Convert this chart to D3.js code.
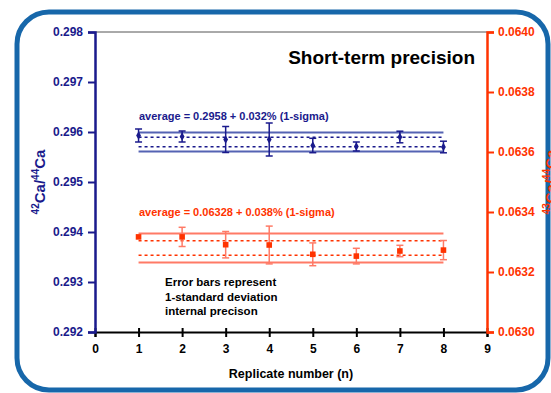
<!DOCTYPE html>
<html>
<head>
<meta charset="utf-8">
<script src="https://cdn.jsdelivr.net/npm/d3@7"></script>
<style>
  body { margin: 0; background: #fff; }
  svg { display: block; font-family: "Liberation Sans", Arial, sans-serif; }
</style>
</head>
<body>
<svg id="chart" width="551" height="393"></svg>
<script>
// replicate numbers and measured ratios
const replicates = [1, 2, 3, 4, 5, 6, 7, 8];
const ca42 = [0.29593, 0.29591, 0.29585, 0.29585, 0.29573, 0.29571, 0.29590, 0.29570];
const ca42Err = [0.00013, 0.00011, 0.00026, 0.00033, 0.000144, 0.00009, 0.000116, 0.000116];
const ca43 = [0.063317, 0.063317, 0.063291, 0.06329, 0.063259, 0.063253, 0.06327, 0.063273];
const ca43Err = [0, 0.000032, 0.000044, 0.000063, 0.000038, 0.000026, 0.000019, 0.000032];

const ca42Mean = 0.2958, ca42Rsd = 0.032;
const ca43Mean = 0.06328, ca43Rsd = 0.038;

const xTicks = [0, 1, 2, 3, 4, 5, 6, 7, 8, 9];
const leftTicks = [0.292, 0.293, 0.294, 0.295, 0.296, 0.297, 0.298];
const rightTicks = [0.0630, 0.0632, 0.0634, 0.0636, 0.0638, 0.0640];

const blue = '#1a1a8c', blueLight = '#5563b3';
const red = '#ff3300', redLight = '#ff7a66';

const svg = d3.select('#chart');
const plotL = 95, plotR = 487, plotT = 32, plotB = 332;

const x = d3.scaleLinear().domain([0, 9]).range([plotL, plotR]);
const yL = d3.scaleLinear().domain([0.292, 0.298]).range([plotB, plotT]);
const yR = d3.scaleLinear().domain([0.0630, 0.0640]).range([plotB, plotT]);

// rounded frame
svg.append('rect')
  .attr('x', 17).attr('y', 12)
  .attr('width', 531).attr('height', 378)
  .attr('rx', 32)
  .attr('fill', 'none')
  .attr('stroke', '#1767aa')
  .attr('stroke-width', 5);

// top border line
svg.append('line')
  .attr('x1', plotL).attr('x2', plotR)
  .attr('y1', plotT).attr('y2', plotT)
  .attr('stroke', '#555').attr('stroke-width', 1);

// x axis
const xAxis = svg.append('g')
  .attr('transform', 'translate(0,' + plotB + ')')
  .call(d3.axisBottom(x).tickValues(xTicks).tickFormat(d3.format('d')).tickSize(5).tickPadding(7));
xAxis.select('.domain').attr('stroke', '#000').attr('stroke-width', 2);
xAxis.selectAll('.tick line').attr('stroke', '#000').attr('stroke-width', 2).attr('y1', -4);
xAxis.selectAll('text').attr('font-size', 12).attr('font-weight', 'bold').attr('fill', '#000');

// left axis
const lAxis = svg.append('g')
  .attr('transform', 'translate(' + plotL + ',0)')
  .call(d3.axisLeft(yL).tickValues(leftTicks).tickFormat(d3.format('.3f')).tickSize(7).tickPadding(5));
lAxis.select('.domain').attr('stroke', blue).attr('stroke-width', 2.5);
lAxis.selectAll('.tick line').attr('stroke', blue).attr('stroke-width', 2);
lAxis.selectAll('text').attr('font-size', 12).attr('font-weight', 'bold').attr('fill', blue);

// right axis
const rAxis = svg.append('g')
  .attr('transform', 'translate(' + plotR + ',0)')
  .call(d3.axisRight(yR).tickValues(rightTicks).tickFormat(d3.format('.4f')).tickSize(7).tickPadding(4));
rAxis.select('.domain').attr('stroke', red).attr('stroke-width', 2.5);
rAxis.selectAll('.tick line').attr('stroke', red).attr('stroke-width', 2);
rAxis.selectAll('text').attr('font-size', 12).attr('font-weight', 'bold').attr('fill', red);

// mean bands: dotted = 1 sigma, solid = 2 sigma
function band(y, mean, rsd, solidColor, dotColor) {
  const s = mean * rsd / 100;
  [-2, 2].forEach(function(k) {
    svg.append('line')
      .attr('x1', x(1)).attr('x2', x(8))
      .attr('y1', y(mean + k * s)).attr('y2', y(mean + k * s))
      .attr('stroke', solidColor).attr('stroke-width', 2);
  });
  [-1, 1].forEach(function(k) {
    svg.append('line')
      .attr('x1', x(1)).attr('x2', x(8))
      .attr('y1', y(mean + k * s)).attr('y2', y(mean + k * s))
      .attr('stroke', dotColor).attr('stroke-width', 1.5)
      .attr('stroke-dasharray', '3,3');
  });
}
band(yL, ca42Mean, ca42Rsd, blueLight, blue);
band(yR, ca43Mean, ca43Rsd, redLight, red);

// error bars + markers
function points(vals, errs, y, color, barColor, square) {
  const g = svg.append('g');
  const data = replicates.map(function(r, i) { return { r: r, v: vals[i], e: errs[i] }; });
  const bars = g.selectAll('g.err').data(data.filter(function(d) { return d.e > 0; }))
    .enter().append('g').attr('class', 'err').attr('stroke', barColor).attr('stroke-width', 1.5);
  bars.append('line')
    .attr('x1', function(d) { return x(d.r); }).attr('x2', function(d) { return x(d.r); })
    .attr('y1', function(d) { return y(d.v - d.e); }).attr('y2', function(d) { return y(d.v + d.e); });
  [-1, 1].forEach(function(k) {
    bars.append('line')
      .attr('x1', function(d) { return x(d.r) - 3.5; }).attr('x2', function(d) { return x(d.r) + 3.5; })
      .attr('y1', function(d) { return y(d.v + k * d.e); }).attr('y2', function(d) { return y(d.v + k * d.e); });
  });
  if (square) {
    g.selectAll('rect').data(data).enter().append('rect')
      .attr('x', function(d) { return x(d.r) - 2.8; })
      .attr('y', function(d) { return y(d.v) - 2.8; })
      .attr('width', 5.6).attr('height', 5.6)
      .attr('fill', color);
  } else {
    g.selectAll('path.mk').data(data).enter().append('path')
      .attr('class', 'mk')
      .attr('d', d3.symbol().type(d3.symbolDiamond).size(20))
      .attr('transform', function(d) { return 'translate(' + x(d.r) + ',' + y(d.v) + ')'; })
      .attr('fill', color);
  }
}
points(ca42, ca42Err, yL, blue, blue, false);
points(ca43, ca43Err, yR, red, redLight, true);

// texts
svg.append('text')
  .attr('x', 475).attr('y', 64)
  .attr('text-anchor', 'end')
  .attr('font-size', 19).attr('font-weight', 'bold')
  .text('Short-term precision');

svg.append('text')
  .attr('x', 139).attr('y', 120)
  .attr('font-size', 11).attr('font-weight', 'bold').attr('fill', blue)
  .text('average = ' + ca42Mean + ' + ' + ca42Rsd.toFixed(3) + '% (1-sigma)');

svg.append('text')
  .attr('x', 139).attr('y', 216)
  .attr('font-size', 11).attr('font-weight', 'bold').attr('fill', red)
  .text('average = ' + ca43Mean + ' + ' + ca43Rsd.toFixed(3) + '% (1-sigma)');

['Error bars represent', '1-standard deviation', 'internal precison'].forEach(function(t, i) {
  svg.append('text')
    .attr('x', 165).attr('y', 286 + i * 14.5)
    .attr('font-size', 11.5).attr('font-weight', 'bold').attr('fill', '#000')
    .text(t);
});

svg.append('text')
  .attr('x', x(4.5)).attr('y', 378)
  .attr('text-anchor', 'middle')
  .attr('font-size', 12.5).attr('font-weight', 'bold')
  .text('Replicate number (n)');

// axis titles with superscripts
function ratioTitle(tx, ty, a, color) {
  const t = svg.append('text')
    .attr('transform', 'translate(' + tx + ',' + ty + ') rotate(-90)')
    .attr('text-anchor', 'middle')
    .attr('font-size', 15).attr('font-weight', 'bold').attr('fill', color);
  t.append('tspan').attr('font-size', 10).attr('dy', -6).text(a);
  t.append('tspan').attr('dy', 6).text('Ca/');
  t.append('tspan').attr('font-size', 10).attr('dy', -6).text('44');
  t.append('tspan').attr('dy', 6).text('Ca');
}
ratioTitle(45, 182, '42', blue);
ratioTitle(556, 182, '43', red);
</script>
</body>
</html>
